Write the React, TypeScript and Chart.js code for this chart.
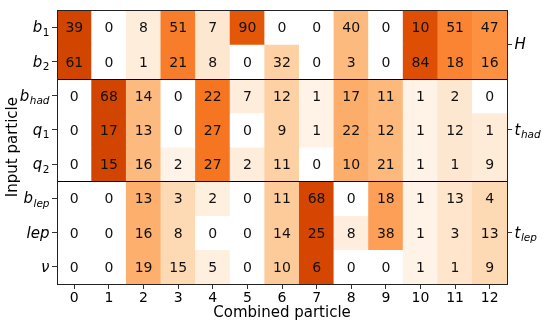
import React, { useEffect, useRef } from 'react';
import { Chart, registerables } from 'chart.js';

Chart.register(...registerables);

// ---------- data ----------
const combinedLabels = ['0', '1', '2', '3', '4', '5', '6', '7', '8', '9', '10', '11', '12'];

const rowMain = ['b', 'b', 'b', 'q', 'q', 'b', 'lep', 'ν'];
const rowSub = ['1', '2', 'had', '1', '2', 'lep', '', ''];
const rowGroup = [0, 0, 1, 1, 1, 2, 2, 2];

const groupMain = ['H', 't', 't'];
const groupSub = ['', 'had', 'lep'];
const groupCenters = [1, 3.5, 6.5];
const groupBoundaries = [2, 5];

const b1Values = [39, 0, 8, 51, 7, 90, 0, 0, 40, 0, 10, 51, 47];
const b2Values = [61, 0, 1, 21, 8, 0, 32, 0, 3, 0, 84, 18, 16];
const bHadValues = [0, 68, 14, 0, 22, 7, 12, 1, 17, 11, 1, 2, 0];
const q1Values = [0, 17, 13, 0, 27, 0, 9, 1, 22, 12, 1, 12, 1];
const q2Values = [0, 15, 16, 2, 27, 2, 11, 0, 10, 21, 1, 1, 9];
const bLepValues = [0, 0, 13, 3, 2, 0, 11, 68, 0, 18, 1, 13, 4];
const lepValues = [0, 0, 16, 8, 0, 0, 14, 25, 8, 38, 1, 3, 13];
const nuValues = [0, 0, 19, 15, 5, 0, 10, 6, 0, 0, 1, 1, 9];

const values = [b1Values, b2Values, bHadValues, q1Values, q2Values, bLepValues, lepValues, nuValues];

// ---------- colour ----------
const ORANGES = [
  [255, 245, 235], [254, 230, 206], [253, 208, 162], [253, 174, 107], [253, 141, 60],
  [241, 105, 19], [217, 72, 1], [166, 54, 3], [127, 39, 4],
];
const VMAX = 130;
function oranges(t: number) {
  const tt = Math.max(0, Math.min(1, t)) * (ORANGES.length - 1);
  const i = Math.min(Math.floor(tt), ORANGES.length - 2);
  const f = tt - i;
  const c = ORANGES[i].map((v, k) => Math.round(v + (ORANGES[i + 1][k] - v) * f));
  return `rgb(${c[0]},${c[1]},${c[2]})`;
}
function cellColor(r: number, c: number) {
  if (values[r][c] === 0) return '#ffffff';
  const g = rowGroup[r];
  let s = 0;
  for (let k = 0; k < values.length; k++) if (rowGroup[k] === g) s += values[k][c];
  return oranges(s / VMAX);
}

const FONT = '"DejaVu Sans", sans-serif';

function drawMath(ctx: CanvasRenderingContext2D, main: string, sub: string, x: number, y: number, align: 'left' | 'right') {
  const mainFont = `italic 15px ${FONT}`;
  const subIsDigit = /^[0-9]+$/.test(sub);
  const subFont = `${subIsDigit ? '' : 'italic '}10.5px ${FONT}`;
  ctx.font = mainFont;
  const wMain = ctx.measureText(main).width;
  ctx.font = subFont;
  const wSub = sub ? ctx.measureText(sub).width + 0.5 : 0;
  const total = wMain + wSub;
  const x0 = align === 'right' ? x - total : x;
  ctx.textAlign = 'left';
  ctx.textBaseline = 'alphabetic';
  ctx.font = mainFont;
  ctx.fillText(main, x0, y + 5);
  if (sub) {
    ctx.font = subFont;
    ctx.fillText(sub, x0 + wMain + 0.5, y + 8.5);
  }
}

const heatPlugin = {
  id: 'heatText',
  afterDatasetsDraw(chart: any) {
    const { ctx, chartArea: a, scales } = chart;
    ctx.save();
    ctx.fillStyle = '#111';
    ctx.font = `14px ${FONT}`;
    ctx.textAlign = 'center';
    ctx.textBaseline = 'alphabetic';
    chart.data.datasets.forEach((_ds: any, i: number) => {
      const meta = chart.getDatasetMeta(i);
      meta.data.forEach((el: any, j: number) => {
        const yc = (el.y + el.base) / 2;
        ctx.fillText(String(values[i][j]), el.x, yc + 5);
      });
    });
    ctx.strokeStyle = '#000';
    ctx.lineWidth = 1.2;
    groupBoundaries.forEach((v) => {
      const y = Math.round(scales.y.getPixelForValue(v)) + 0.5;
      ctx.beginPath();
      ctx.moveTo(a.left, y);
      ctx.lineTo(a.right, y);
      ctx.stroke();
    });
    ctx.lineWidth = 1;
    ctx.strokeStyle = '#222';
    ctx.strokeRect(Math.round(a.left) + 0.5, Math.round(a.top) + 0.5, Math.round(a.width), Math.round(a.height));
    ctx.restore();
  },
  afterDraw(chart: any) {
    const { ctx, chartArea: a, scales } = chart;
    ctx.save();
    ctx.fillStyle = '#000';
    rowMain.forEach((m, i) => {
      const y = scales.y.getPixelForValue(i + 0.5);
      drawMath(ctx, m, rowSub[i], a.left - 7.5, y, 'right');
    });
    groupMain.forEach((m, i) => {
      const y = scales.y2.getPixelForValue(groupCenters[i]);
      drawMath(ctx, m, groupSub[i], a.right + 7.5, y, 'left');
    });
    ctx.font = `15px ${FONT}`;
    ctx.textAlign = 'center';
    ctx.textBaseline = 'middle';
    ctx.fillText('Combined particle', (a.left + a.right) / 2, 313);
    ctx.translate(13, (a.top + a.bottom) / 2);
    ctx.rotate(-Math.PI / 2);
    ctx.fillText('Input particle', 0, 0);
    ctx.restore();
  },
};

export default function App() {
  const ref = useRef<HTMLCanvasElement | null>(null);
  useEffect(() => {
    if (!ref.current) return;
    const datasets = values.map((row, r) => ({
      label: `${rowMain[r]}${rowSub[r]}`,
      data: row.map(() => [r, r + 1] as [number, number]),
      backgroundColor: row.map((_v, c) => cellColor(r, c)),
      borderWidth: 0,
      barPercentage: 1,
      categoryPercentage: 1,
      yAxisID: 'y',
    }));
    const tickGrid = { drawOnChartArea: false, drawTicks: true, tickLength: 5, color: '#333', lineWidth: 1 };
    const chart = new Chart(ref.current, {
      type: 'bar',
      data: { labels: combinedLabels, datasets },
      plugins: [heatPlugin],
      options: {
        animation: false,
        responsive: false,
        layout: { padding: { top: 8, left: 0, right: 0, bottom: 0 } },
        plugins: { legend: { display: false }, tooltip: { enabled: false } },
        scales: {
          x: {
            type: 'category',
            stacked: true,
            offset: true,
            grid: { ...tickGrid, offset: false },
            border: { display: false },
            ticks: { color: '#000', font: { family: FONT, size: 14 }, padding: 1, maxRotation: 0, autoSkip: false },
            afterFit: (s: any) => { s.height = 44; },
          },
          y: {
            type: 'linear',
            position: 'left',
            min: 0,
            max: 8,
            reverse: true,
            grid: tickGrid,
            border: { display: false },
            ticks: { callback: () => '' },
            afterBuildTicks: (s: any) => { s.ticks = rowMain.map((_m, i) => ({ value: i + 0.5 })); },
            afterFit: (s: any) => { s.width = 57; },
          },
          y2: {
            type: 'linear',
            position: 'right',
            display: true,
            min: 0,
            max: 8,
            reverse: true,
            grid: tickGrid,
            border: { display: false },
            ticks: { callback: () => '' },
            afterBuildTicks: (s: any) => { s.ticks = groupCenters.map((v) => ({ value: v })); },
            afterFit: (s: any) => { s.width = 44; },
          },
        },
      } as any,
    });
    return () => chart.destroy();
  }, []);
  return (
    <div style={{ position: 'fixed', left: 0, top: 0, width: 551, height: 328, background: '#fff' }}>
      <canvas ref={ref} width={551} height={328} style={{ display: 'block' }} />
    </div>
  );
}
